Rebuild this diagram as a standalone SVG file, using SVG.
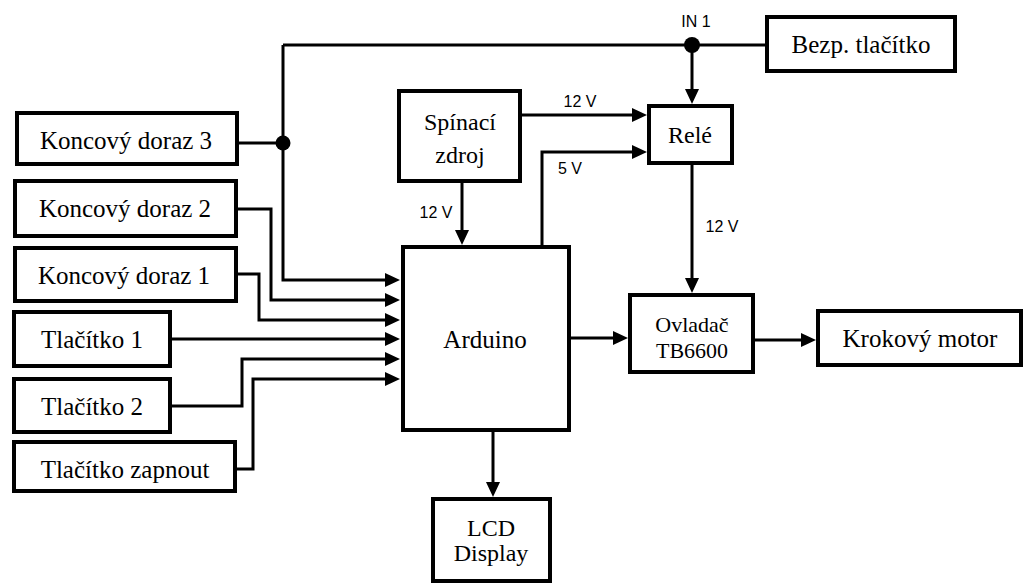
<svg xmlns="http://www.w3.org/2000/svg" width="1025" height="583" viewBox="0 0 1025 583">
<style>
.box{fill:#fff;stroke:#000;stroke-width:4}
.t{font-family:"Liberation Serif","DejaVu Serif","Times New Roman",serif;font-size:25px;fill:#000;text-anchor:middle}
.t2{font-family:"Liberation Serif","DejaVu Serif","Times New Roman",serif;font-size:24px;fill:#000;text-anchor:middle}
.lbl{font-family:"Liberation Sans",Arial,sans-serif;font-size:16px;fill:#000;text-anchor:middle}
.w{fill:none;stroke:#000;stroke-width:3}
</style>
<defs>
<marker id="ah" markerUnits="userSpaceOnUse" markerWidth="16" markerHeight="16" refX="3" refY="7" orient="auto">
<path d="M0,0 L15,7 L0,14 z" fill="#000"/>
</marker>
</defs>
<rect width="1025" height="583" fill="#fff"/>
<g id="connectors">
<path class="w" d="M283,45 H767"/>
<path class="w" d="M239,143 H283"/>
<path class="w" d="M283,45 V280 H388" marker-end="url(#ah)"/>
<path class="w" d="M238,209 H271 V300 H388" marker-end="url(#ah)"/>
<path class="w" d="M238,274 H259 V320 H388" marker-end="url(#ah)"/>
<path class="w" d="M172,339 H388" marker-end="url(#ah)"/>
<path class="w" d="M172,406 H242 V359 H388" marker-end="url(#ah)"/>
<path class="w" d="M237,469 H253 V379 H388" marker-end="url(#ah)"/>
<path class="w" d="M692,45 V92" marker-end="url(#ah)"/>
<path class="w" d="M522,115 H635" marker-end="url(#ah)"/>
<path class="w" d="M542,245 V152 H635" marker-end="url(#ah)"/>
<path class="w" d="M462,183 V233" marker-end="url(#ah)"/>
<path class="w" d="M692,165 V281" marker-end="url(#ah)"/>
<path class="w" d="M571,338 H616" marker-end="url(#ah)"/>
<path class="w" d="M755,340 H804" marker-end="url(#ah)"/>
<path class="w" d="M493,432 V485" marker-end="url(#ah)"/>
<circle cx="283" cy="143" r="7.5" fill="#000"/>
<circle cx="692" cy="45" r="8" fill="#000"/>
<text class="lbl" x="696" y="27">IN 1</text>
<text class="lbl" x="580" y="107">12 V</text>
<text class="lbl" x="570" y="174">5 V</text>
<text class="lbl" x="436" y="218">12 V</text>
<text class="lbl" x="722" y="232">12 V</text>
</g>
<g id="koncovy3"><rect class="box" x="17" y="113" width="220" height="51"/><text class="t" x="126" y="149">Koncový doraz 3</text></g>
<g id="koncovy2"><rect class="box" x="15" y="181" width="221" height="55"/><text class="t" x="125" y="217">Koncový doraz 2</text></g>
<g id="koncovy1"><rect class="box" x="15" y="248" width="221" height="53"/><text class="t" x="124" y="284">Koncový doraz 1</text></g>
<g id="tlacitko1"><rect class="box" x="14" y="312" width="156" height="54"/><text class="t" x="92" y="348">Tlačítko 1</text></g>
<g id="tlacitko2"><rect class="box" x="14" y="379" width="156" height="53"/><text class="t" x="92" y="415">Tlačítko 2</text></g>
<g id="tlacitkozapnout"><rect class="box" x="14" y="442" width="221" height="49"/><text class="t" x="125" y="478">Tlačítko zapnout</text></g>
<g id="spinaci"><rect class="box" x="399" y="91" width="121" height="90"/><text class="t2" x="460" y="130">Spínací<tspan x="460" y="163">zdroj</tspan></text></g>
<g id="rele"><rect class="box" x="649" y="106" width="83" height="57"/><text class="t2" x="690" y="143">Relé</text></g>
<g id="bezp"><rect class="box" x="767" y="17" width="188" height="54"/><text class="t" x="861" y="53">Bezp. tlačítko</text></g>
<g id="arduino"><rect class="box" x="403" y="247" width="166" height="183"/><text class="t" x="485" y="348">Arduino</text></g>
<g id="ovladac"><rect class="box" x="630" y="295" width="123" height="77"/><text class="t2" style="font-size:22px" x="692" y="332">Ovladač<tspan x="692" y="358">TB6600</tspan></text></g>
<g id="krokovy"><rect class="box" x="818" y="311" width="203" height="54"/><text class="t" x="920" y="347">Krokový motor</text></g>
<g id="lcd"><rect class="box" x="433" y="499" width="117" height="82"/><text class="t2" x="491" y="536">LCD<tspan x="491" y="561">Display</tspan></text></g>
</svg>
